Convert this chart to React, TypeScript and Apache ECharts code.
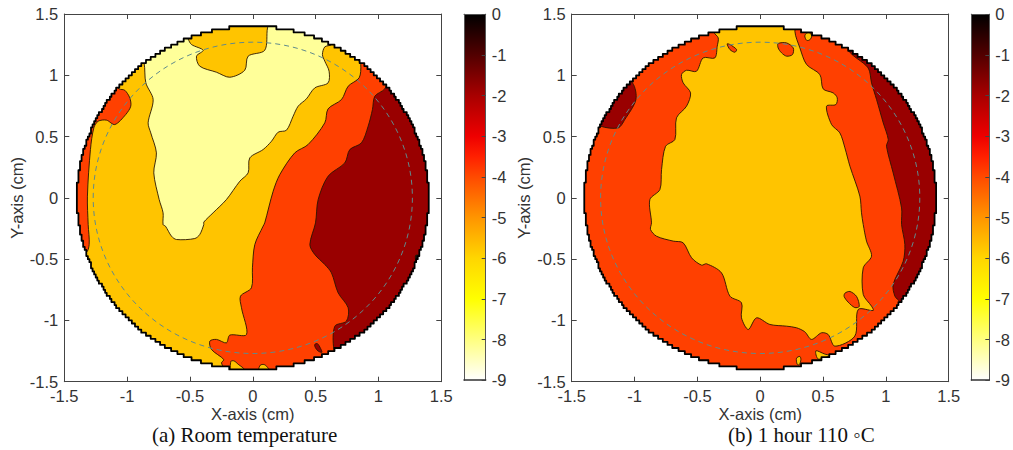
import React, { useEffect, useRef } from "react";
import * as echarts from "echarts";

type Pt = [number, number];

const pale = "#FFFF99";
const amber = "#FFC400";
const orange = "#FF4000";
const dark = "#990000";
const edge = "#2a1500";

const colorbarStops: [number, string][] = [
  [0, "#000000"], [-1, "#520000"], [-2, "#a80000"], [-3, "#ee0000"], [-3.5, "#ff2000"],
  [-4, "#ff4a00"], [-5, "#ff9500"], [-6, "#ffd600"], [-7, "#ffff00"], [-8, "#ffff80"], [-9, "#ffffff"],
];

// Panel (a) contour regions, in cm
const aRedStrip: Pt[] = [[-1.064,0.889],[-1.019,0.878],[-0.979,0.816],[-0.971,0.748],[-1.011,0.68],[-1.098,0.598],[-1.164,0.634],[-1.231,0.625],[-1.265,0.571],[-1.292,0.394],[-1.316,0.014],[-1.31,-0.218],[-1.302,-0.381],[-1.329,-0.449],[-1.49,-0.45],[-1.49,0.9],[-1.2,1.0]];
const aPale: Pt[] = [[-0.865,1.101],[-0.851,0.938],[-0.793,0.802],[-0.833,0.612],[-0.812,0.53],[-0.767,0.367],[-0.788,0.204],[-0.745,-0.014],[-0.714,-0.122],[-0.714,-0.218],[-0.695,-0.231],[-0.647,-0.313],[-0.607,-0.34],[-0.462,-0.332],[-0.422,-0.299],[-0.39,-0.218],[-0.39,-0.198],[-0.316,-0.122],[-0.21,-0.014],[-0.103,0.136],[-0.037,0.204],[-0.024,0.326],[0.082,0.394],[0.149,0.462],[0.202,0.536],[0.268,0.552],[0.321,0.666],[0.361,0.748],[0.427,0.808],[0.493,0.897],[0.599,0.938],[0.607,1.033],[0.573,1.115],[0.554,1.169],[0.573,1.232],[0.626,1.251],[0.7,1.4],[0,1.49],[-0.9,1.2]];
const aNotch: Pt[] = [[-0.515,1.297],[-0.488,1.251],[-0.395,1.204],[-0.448,1.156],[-0.422,1.074],[-0.289,1.025],[-0.183,0.984],[-0.064,1.041],[-0.037,1.156],[0.095,1.204],[0.117,1.387],[0.15,1.49],[-0.6,1.49]];
const aOrange: Pt[] = [[0.838,1.142],[0.859,1.088],[0.846,0.979],[0.759,0.911],[0.706,0.802],[0.599,0.726],[0.573,0.612],[0.44,0.435],[0.334,0.367],[0.215,0.19],[0.162,0.054],[0.095,-0.204],[0.082,-0.231],[0.016,-0.381],[-0.003,-0.571],[-0.011,-0.734],[-0.098,-0.802],[-0.09,-0.897],[-0.05,-1.115],[-0.183,-1.12],[-0.21,-1.183],[-0.289,-1.155],[-0.342,-1.169],[-0.329,-1.237],[-0.231,-1.319],[-0.249,-1.346],[-0.231,-1.387],[-0.2,-1.49],[1.49,-1.49],[1.49,1.2],[1.0,1.3]];
const aDark: Pt[] = [[1.05,0.889],[0.971,0.829],[0.952,0.72],[0.918,0.585],[0.865,0.449],[0.772,0.394],[0.732,0.285],[0.599,0.177],[0.52,-0.014],[0.499,-0.204],[0.454,-0.381],[0.493,-0.462],[0.573,-0.544],[0.626,-0.612],[0.679,-0.775],[0.759,-0.897],[0.745,-1.006],[0.653,-1.047],[0.645,-1.237],[0.7,-1.4],[1.49,-1.49],[1.49,1.2],[1.1,1.0]];
const aDarkSpot: Pt[] = [[0.493,-1.196],[0.515,-1.19],[0.54,-1.23],[0.55,-1.26],[0.52,-1.25],[0.497,-1.22]];
const aAmberSpot1: Pt[] = [[-0.175,-1.335],[-0.15,-1.33],[-0.117,-1.357],[-0.07,-1.4],[-0.17,-1.42]];
const aAmberSpot2: Pt[] = [[0.05,-1.4],[0.06,-1.365],[0.09,-1.36],[0.115,-1.38],[0.13,-1.41]];
const aRimSpot: Pt[] = [[1.295,-0.47],[1.325,-0.47],[1.325,-0.52],[1.3,-0.52]];

// Panel (b) contour regions, in cm
const bAmber: Pt[] = [[-0.369,1.351],[-0.334,1.305],[-0.342,1.237],[-0.361,1.142],[-0.454,1.142],[-0.507,1.033],[-0.586,1.041],[-0.626,1.006],[-0.613,0.938],[-0.554,0.856],[-0.586,0.748],[-0.666,0.653],[-0.679,0.476],[-0.753,0.421],[-0.785,0.231],[-0.798,0.068],[-0.878,-0.014],[-0.865,-0.204],[-0.873,-0.258],[-0.825,-0.313],[-0.692,-0.353],[-0.613,-0.367],[-0.546,-0.489],[-0.467,-0.549],[-0.427,-0.538],[-0.308,-0.612],[-0.241,-0.802],[-0.149,-0.856],[-0.149,-0.979],[-0.095,-1.074],[-0.029,-0.979],[0.077,-1.033],[0.21,-1.047],[0.289,-1.06],[0.355,-1.093],[0.408,-1.155],[0.488,-1.101],[0.541,-1.115],[0.594,-1.21],[0.753,-1.128],[0.78,-0.911],[0.899,-0.919],[0.886,-0.884],[0.82,-0.788],[0.82,-0.571],[0.886,-0.476],[0.846,-0.353],[0.82,-0.218],[0.806,-0.122],[0.793,0.014],[0.714,0.258],[0.674,0.408],[0.634,0.53],[0.568,0.598],[0.528,0.748],[0.602,0.761],[0.613,0.816],[0.581,0.856],[0.501,0.889],[0.475,1.006],[0.369,1.088],[0.316,1.223],[0.276,1.359],[0.3,1.49],[-0.4,1.49]];
const bBubble: Pt[] = [[0.674,-0.778],[0.714,-0.764],[0.767,-0.805],[0.788,-0.886],[0.753,-0.895],[0.7,-0.851],[0.668,-0.805]];
const bDarkRight: Pt[] = [[0.7,1.215],[0.859,1.06],[0.886,0.938],[0.926,0.802],[0.979,0.612],[1.019,0.476],[1.005,0.421],[1.058,0.204],[1.125,-0.082],[1.125,-0.218],[1.151,-0.381],[1.138,-0.517],[1.058,-0.707],[1.072,-0.802],[1.111,-0.848],[1.2,-1.0],[1.49,-0.8],[1.49,1.2],[0.8,1.4]];
const bDarkLeft: Pt[] = [[-1.016,0.938],[-0.989,0.802],[-1.077,0.639],[-1.13,0.571],[-1.271,0.585],[-1.49,0.7],[-1.2,1.1]];
const bRimDot: Pt[] = [[0.355,1.32],[0.37,1.345],[0.395,1.345],[0.41,1.32],[0.395,1.29],[0.37,1.285]];
const bDropLarge: Pt[] = [[0.143,1.259],[0.21,1.264],[0.263,1.223],[0.257,1.169],[0.21,1.156],[0.17,1.183],[0.143,1.223]];
const bDropSmall: Pt[] = [[-0.263,1.256],[-0.241,1.251],[-0.188,1.21],[-0.202,1.188],[-0.241,1.21]];
const bSpot1: Pt[] = [[0.289,-1.308],[0.316,-1.294],[0.324,-1.321],[0.31,-1.362],[0.294,-1.357]];
const bSpot2: Pt[] = [[0.443,-1.248],[0.515,-1.275],[0.554,-1.286],[0.462,-1.315]];

const panelA: [Pt[], string][] = [
  [aRedStrip, orange], [aPale, pale], [aNotch, amber], [aOrange, orange], [aDark, dark],
  [aDarkSpot, dark], [aAmberSpot1, amber], [aAmberSpot2, amber], [aRimSpot, "#111111"],
];
const panelB: [Pt[], string][] = [
  [bAmber, amber], [bBubble, orange], [bDarkRight, dark], [bDarkLeft, dark], [bRimDot, amber],
  [bDropLarge, orange], [bDropSmall, orange], [bSpot1, amber], [bSpot2, amber],
];

const xTicks = { min: -1.5, max: 1.5, interval: 0.5 };
const waferRadius = 1.4;
const cellWidth = 0.0125;
const cellHeight = 0.025;
const dashedRadius = 1.27;

// The wafer outline follows the small measurement cells
function steppedRim(): Pt[] {
  const n = Math.round((2 * waferRadius) / cellWidth);
  const top: Pt[] = [];
  const bottom: Pt[] = [];
  for (let i = 0; i < n; i++) {
    const x0 = -waferRadius + i * cellWidth;
    const x1 = x0 + cellWidth;
    const xm = (x0 + x1) / 2;
    const h = Math.round(Math.sqrt(Math.max(0, waferRadius * waferRadius - xm * xm)) / cellHeight) * cellHeight;
    top.push([x0, h], [x1, h]);
    bottom.push([x0, -h], [x1, -h]);
  }
  return [...top, ...bottom.reverse()];
}
const rim = steppedRim();
const frameHole: Pt[] = [[-1.5, 1.5], [-1.5, -1.5], [1.5, -1.5], [1.5, 1.5], [-1.5, 1.5], ...rim, rim[0]];

const axisColor = "#444444";
const labelFont = { fontFamily: "Liberation Sans", fontSize: 16.5, color: "#333333" };

function plotAxes(gridIndex: number) {
  const line = { show: true, lineStyle: { color: axisColor, width: 1 } };
  const tick = { show: true, inside: true, length: 5, lineStyle: { color: axisColor } };
  const base = { type: "value", gridIndex, ...xTicks, z: 5, splitLine: { show: false }, axisLine: { ...line, onZero: false }, axisTick: tick };
  return {
    x: [
      { ...base, position: "bottom", axisLabel: { ...labelFont, margin: 6, showMinLabel: true, showMaxLabel: true }, name: "X-axis (cm)", nameLocation: "middle", nameGap: 24, nameMoveOverlap: false, nameTextStyle: labelFont },
      { ...base, position: "top", axisLabel: { show: false } },
    ],
    y: [
      { ...base, position: "left", axisLabel: { ...labelFont, margin: 6, showMinLabel: true, showMaxLabel: true }, name: "Y-axis (cm)", nameLocation: "middle", nameGap: 39, nameMoveOverlap: false, nameRotate: 90, nameTextStyle: labelFont },
      { ...base, position: "right", axisLabel: { show: false } },
    ],
  };
}

function colorbarAxes(gridIndex: number) {
  const line = { show: true, lineStyle: { color: "#555555", width: 1 } };
  return {
    x: [{ type: "value", gridIndex, min: 0, max: 1, show: true, position: "bottom", z: 5, axisLine: { ...line, onZero: false, lineStyle: { color: "#333333", width: 1.5 } }, axisTick: { show: false }, axisLabel: { show: false }, splitLine: { show: false } },
        { type: "value", gridIndex, min: 0, max: 1, show: true, position: "top", z: 5, axisLine: { ...line, onZero: false }, axisTick: { show: false }, axisLabel: { show: false }, splitLine: { show: false } }],
    y: [{ type: "value", gridIndex, min: -9, max: 0, interval: 1, position: "right", z: 5, axisLine: { ...line, onZero: false }, axisTick: { show: true, inside: true, length: 4, lineStyle: { color: "#444444" } }, axisLabel: { ...labelFont, margin: 6, showMinLabel: true, showMaxLabel: true }, splitLine: { show: false } },
        { type: "value", gridIndex, min: -9, max: 0, interval: 1, position: "left", z: 5, axisLine: { ...line, onZero: false }, axisTick: { show: false }, axisLabel: { show: false }, splitLine: { show: false } }],
  };
}

function waferSeries(regions: [Pt[], string][], xAxisIndex: number, yAxisIndex: number) {
  const layers: { pts?: Pt[]; fill?: string; stroke?: string; lineWidth?: number; dashed?: boolean; smooth?: number }[] = [
    { pts: rim, fill: regions === panelA ? amber : orange },
    ...regions.map(([pts, fill]) => ({ pts, fill, stroke: edge, lineWidth: 0.9, smooth: 0.3 })),
    { pts: frameHole, fill: "#ffffff" },
    { pts: rim, fill: "none", stroke: "#000000", lineWidth: 1.8 },
    { dashed: true },
  ];
  return {
    type: "custom",
    xAxisIndex,
    yAxisIndex,
    z: 1,
    clip: true,
    silent: true,
    coordinateSystem: "cartesian2d",
    data: layers.map((_, i) => [i, 0]),
    encode: { x: 0, y: 1 },
    renderItem: (params: any, api: any) => {
      const layer = layers[params.dataIndex];
      if (layer.dashed) {
        const c = api.coord([0, 0]);
        const s = api.size([dashedRadius, dashedRadius]);
        return {
          type: "ellipse",
          shape: { cx: c[0], cy: c[1], rx: s[0], ry: s[1] },
          style: { fill: "none", stroke: "#5f8a8c", lineWidth: 1, lineDash: [5, 4] },
        };
      }
      return {
        type: "polygon",
        shape: { points: layer.pts!.map((p) => api.coord(p)), smooth: layer.smooth ?? 0 },
        style: { fill: layer.fill, stroke: layer.stroke ?? "none", lineWidth: layer.lineWidth ?? 0, lineJoin: "round" },
      };
    },
  };
}

function colorbarSeries(xAxisIndex: number, yAxisIndex: number) {
  return {
    type: "custom",
    xAxisIndex,
    yAxisIndex,
    z: 1,
    silent: true,
    data: [[0, -9, 1, 0]],
    encode: { x: [0, 2], y: [1, 3] },
    renderItem: (_: any, api: any) => {
      const a = api.coord([0, 0]);
      const b = api.coord([1, -9]);
      return {
        type: "rect",
        shape: { x: a[0], y: a[1], width: b[0] - a[0], height: b[1] - a[1] },
        style: {
          fill: new echarts.graphic.LinearGradient(0, 0, 0, 1,
            colorbarStops.map(([v, color]) => ({ offset: -v / 9, color }))),
        },
      };
    },
  };
}

export default function App() {
  const ref = useRef<HTMLDivElement>(null);
  useEffect(() => {
    const chart = echarts.init(ref.current!, undefined, { renderer: "svg" });
    const p1 = plotAxes(0), c1 = colorbarAxes(1), p2 = plotAxes(2), c2 = colorbarAxes(3);
    chart.setOption({
      animation: false,
      backgroundColor: "#ffffff",
      title: [
        { text: "(a) Room temperature", left: 147, top: 419, textStyle: { fontFamily: "Liberation Serif", fontSize: 21, fontWeight: "normal", color: "#111111" } },
        { text: "(b) 1 hour 110 ◦C", left: 723, top: 419, textStyle: { fontFamily: "Liberation Serif", fontSize: 21, fontWeight: "normal", color: "#111111" } },
      ],
      grid: [
        { left: 64.3, top: 14, width: 377, height: 367.7 },
        { left: 464, top: 14.2, width: 21.7, height: 366 },
        { left: 571.7, top: 14, width: 377, height: 367.7 },
        { left: 971.3, top: 14.2, width: 21.5, height: 366 },
      ],
      xAxis: [...p1.x, ...c1.x, ...p2.x, ...c2.x],
      yAxis: [...p1.y, ...c1.y, ...p2.y, ...c2.y],
      series: [
        waferSeries(panelA, 0, 0),
        colorbarSeries(2, 2),
        waferSeries(panelB, 4, 4),
        colorbarSeries(6, 6),
      ],
    });
    return () => chart.dispose();
  }, []);
  return <div ref={ref} style={{ position: "fixed", left: 0, top: 0, width: 1013, height: 450 }} />;
}
